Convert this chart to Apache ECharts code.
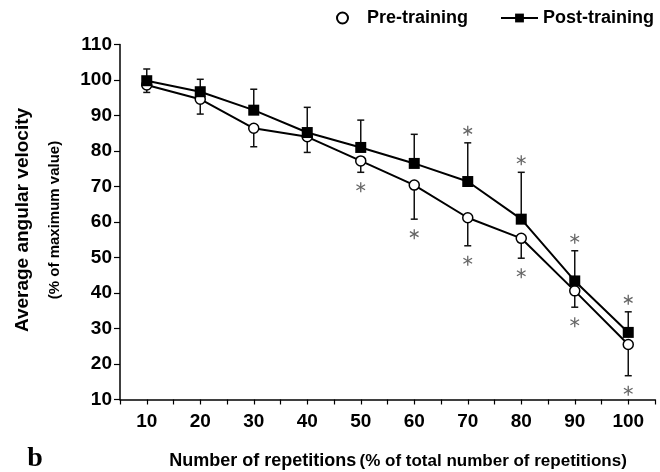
<!DOCTYPE html>
<html>
<head>
<meta charset="utf-8">
<script src="https://cdn.jsdelivr.net/npm/echarts@6/dist/echarts.min.js"></script>
<style>
  html, body { margin: 0; padding: 0; background: #fff; }
  #main { width: 660px; height: 472px; }
</style>
</head>
<body>
<div id="main"></div>
<script>
// repetitions (% of total number of repetitions)
const reps = [10, 20, 30, 40, 50, 60, 70, 80, 90, 100];
const yTicks = [10, 20, 30, 40, 50, 60, 70, 80, 90, 100, 110];

// pre-training mean and SD (bars drawn downward)
const pre = [98.6, 94.6, 86.4, 84.0, 77.2, 70.4, 61.2, 55.4, 40.6, 25.5];
const preSd = [2.1, 4.2, 5.2, 4.4, 3.2, 9.6, 7.9, 5.6, 4.6, 8.8];
const preSig = [0, 0, 0, 0, 1, 1, 1, 1, 1, 1];

// post-training mean and SD (bars drawn upward)
const post = [99.8, 96.7, 91.5, 85.2, 81.0, 76.5, 71.4, 60.8, 43.4, 28.9];
const postSd = [3.3, 3.5, 5.9, 7.1, 7.7, 8.2, 10.9, 13.2, 8.5, 5.8];
const postSig = [0, 0, 0, 0, 0, 0, 1, 1, 1, 1];

const FONT = 'Liberation Sans, Arial, sans-serif';

function errorItem(params, api) {
    const x = api.value(0), v = api.value(1), e = api.value(2), dir = api.value(3), sig = api.value(4);
    const p0 = api.coord([x, v]);
    const p1 = api.coord([x, v + dir * e]);
    const style = { stroke: '#111', lineWidth: 1.5 };
    const children = [
        { type: 'line', shape: { x1: p0[0], y1: p0[1], x2: p1[0], y2: p1[1] }, style: style },
        { type: 'line', shape: { x1: p1[0] - 3.5, y1: p1[1], x2: p1[0] + 3.5, y2: p1[1] }, style: style }
    ];
    if (sig) {
        // significance asterisk beyond the end of the bar
        const cx = p1[0];
        const cy = p1[1] - dir * (dir > 0 ? 12 : 15);
        const r = 5;
        const st = { stroke: '#666', lineWidth: 1.3 };
        [90, 30, 150].forEach(function (a) {
            const rad = a * Math.PI / 180;
            const dx = r * Math.cos(rad), dy = r * Math.sin(rad);
            children.push({ type: 'line', shape: { x1: cx - dx, y1: cy - dy, x2: cx + dx, y2: cy + dy }, style: st });
        });
    }
    return { type: 'group', children: children };
}

const chart = echarts.init(document.getElementById('main'));
chart.setOption({
    animation: false,
    backgroundColor: '#fff',
    textStyle: { fontFamily: FONT },
    grid: { left: 120, right: 5, top: 44.5, bottom: 72.5 },
    legend: [
        {
            data: [{ name: 'Pre-training', icon: 'circle' }], left: 331, top: 4,
            itemWidth: 11, itemHeight: 11,
            textStyle: { fontFamily: FONT, fontWeight: 'bold', fontSize: 18, color: '#000', padding: [0, 0, 0, 14] }
        },
        {
            data: ['Post-training'], left: 495, top: 4,
            itemWidth: 37, itemHeight: 11,
            textStyle: { fontFamily: FONT, fontWeight: 'bold', fontSize: 18, color: '#000' }
        }
    ],
    xAxis: {
        type: 'value', min: 5, max: 105, interval: 5,
        splitLine: { show: false },
        axisLine: { lineStyle: { color: '#000', width: 1.5 } },
        axisTick: { length: 5, lineStyle: { color: '#000', width: 1.2 } },
        axisLabel: {
            margin: 13, color: '#000', fontFamily: FONT, fontWeight: 'bold', fontSize: 19,
            formatter: function (v) { return reps.indexOf(v) >= 0 ? String(v) : ''; }
        }
    },
    yAxis: {
        type: 'value', min: yTicks[0], max: yTicks[yTicks.length - 1], interval: 10,
        splitLine: { show: false },
        axisLine: { show: true, lineStyle: { color: '#000', width: 1.5 } },
        axisTick: { show: true, length: 6, lineStyle: { color: '#000', width: 1.2 } },
        axisLabel: { margin: 8, color: '#000', fontFamily: FONT, fontWeight: 'bold', fontSize: 19 }
    },
    series: [
        {
            type: 'custom', name: 'err-pre', z: 1,
            renderItem: errorItem,
            data: reps.map(function (r, i) { return [r, pre[i], preSd[i], -1, preSig[i]]; })
        },
        {
            type: 'custom', name: 'err-post', z: 1,
            renderItem: errorItem,
            data: reps.map(function (r, i) { return [r, post[i], postSd[i], 1, postSig[i]]; })
        },
        {
            name: 'Pre-training', type: 'line', z: 3,
            symbol: 'circle', symbolSize: 10,
            lineStyle: { color: '#000', width: 2 },
            itemStyle: { color: '#fff', borderColor: '#000', borderWidth: 1.5 },
            data: reps.map(function (r, i) { return [r, pre[i]]; })
        },
        {
            name: 'Post-training', type: 'line', z: 4,
            symbol: 'rect', symbolSize: 11,
            lineStyle: { color: '#000', width: 2 },
            itemStyle: { color: '#000' },
            data: reps.map(function (r, i) { return [r, post[i]]; })
        }
    ],
    graphic: [
        {
            type: 'text', x: 23, y: 220, rotation: Math.PI / 2,
            style: { text: 'Average angular velocity', font: 'bold 19px ' + FONT, fill: '#000', align: 'center', verticalAlign: 'middle' }
        },
        {
            type: 'text', x: 55, y: 220, rotation: Math.PI / 2,
            style: { text: '(% of maximum value)', font: 'bold 15px ' + FONT, fill: '#000', align: 'center', verticalAlign: 'middle' }
        },
        {
            type: 'text', x: 398, y: 461,
            style: {
                text: '{a|Number of repetitions} {b|(% of total number of repetitions)}',
                align: 'center', verticalAlign: 'middle',
                rich: {
                    a: { font: 'bold 18px ' + FONT, fill: '#000' },
                    b: { font: 'bold 17px ' + FONT, fill: '#000' }
                }
            }
        },
        {
            type: 'text', x: 35, y: 459,
            style: { text: 'b', font: 'bold 28px Liberation Serif, Times New Roman, serif', fill: '#000', align: 'center', verticalAlign: 'middle' }
        }
    ]
});
</script>
</body>
</html>
